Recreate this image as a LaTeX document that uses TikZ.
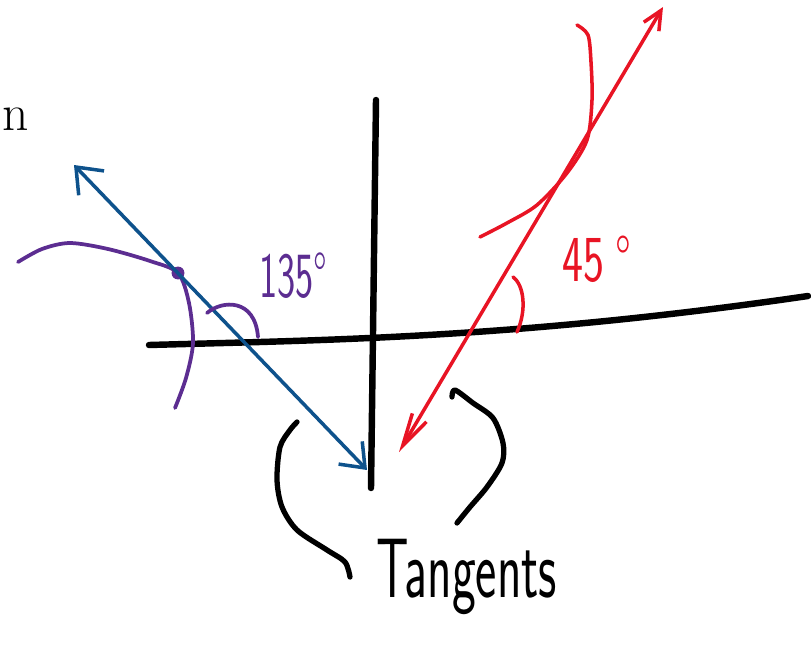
\documentclass[tikz,border=0pt]{standalone}
\usepackage{fontspec}
\usetikzlibrary{arrows.meta,positioning}
\definecolor{penBlue}{RGB}{14,82,140}
\definecolor{penPurple}{RGB}{92,45,145}
\definecolor{penRed}{RGB}{232,20,36}

\begin{document}
\begin{tikzpicture}[x=0.03cm, y=-0.03cm, line cap=round, line join=round,
        axisline/.style={black, line width=5.5pt},
        pen/.style={line width=3pt},
        handtext/.style={font=\sffamily, inner sep=0pt, anchor=base west}]
    \useasboundingbox (0,0) rectangle (811,660);
    \node[font=\fontsize{44}{44}\selectfont, inner sep=0pt, anchor=base east] (lblN) at (29,130) {n};
    % axes
    \coordinate (vTop) at (376,100);
    \coordinate (vBot) at (371,488);
    \coordinate (hLeft) at (149,345);
    \coordinate (hRight) at (808,296);
    \draw[axisline] (vTop) -- (vBot);
    \draw[axisline] (hLeft) .. controls (330,340) and (520,338) .. (hRight);
    % blue tangent, 135 degrees
    \coordinate (bTop) at (74,165);
    \coordinate (bBot) at (367,470);
    \coordinate (pDot) at (178,273);
    \draw[penPurple, line width=3.2pt] plot[smooth] coordinates {(18,262) (42,249) (70,243) (108,249) (150,261) (pDot) (189,303) (193,343) (186,378) (175,408)};
    \fill[penPurple] (pDot) circle (5.5pt);
    \draw[pen, penBlue, arrows={Straight Barb[length=19pt,width=30pt]-Straight Barb[length=18pt,width=28pt]}] (bTop) -- (bBot);
    \draw[penPurple, line width=3.2pt] (207,313) .. controls (222,300) and (255,298) .. (258,337);
    \node[handtext, penPurple] (lbl135) at (259,297) {\fontsize{55}{55}\selectfont\scalebox{0.6}[1]{135°}};
    % red tangent, 45 degrees
    \coordinate (rTop) at (663,7);
    \coordinate (rBot) at (399,452);
    \draw[penRed, pen] plot[smooth] coordinates {(577,25) (588,35) (591,62) (592,100) (587,140) (567,173) (537,205) (507,223) (480,237)};
    \draw[pen, penRed, arrows={Straight Barb[length=28pt,width=14pt]-Straight Barb[length=16pt,width=15pt]}] (rBot) -- (rTop);
    \draw[penRed, pen] (513,277) .. controls (524,285) and (527,310) .. (517,332);
    \node[handtext, penRed] (lbl45) at (562,281) {\fontsize{56}{56}\selectfont\scalebox{0.68}[1]{45\hspace{0.25em}°}};
    % brackets and caption
    \draw[black, line width=4.5pt] plot[smooth] coordinates {(297,422) (290,430) (280,447) (277,480) (282,507) (297,530) (327,550) (345,562) (350,577)};
    \draw[black, line width=4.5pt] plot[smooth] coordinates {(452,397) (455,390) (473,403) (493,418) (503,443) (502,463) (487,487) (470,507) (457,523)};
    \node[handtext, black] (lblTangents) at (376,597) {\fontsize{72}{72}\selectfont\scalebox{0.6}[1]{Tangents}};
\end{tikzpicture}
\end{document}
